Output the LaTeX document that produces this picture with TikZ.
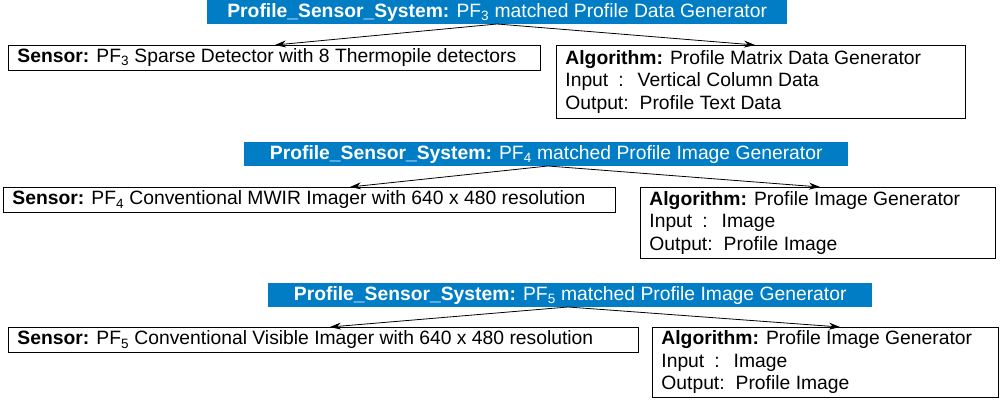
\documentclass[tikz,border=0pt]{standalone}
\usepackage{fontspec}
\setmainfont{Liberation Sans}
\usetikzlibrary{arrows.meta}
\definecolor{tblue}{RGB}{0,125,196}
\tikzset{
  ttl/.style={fill=tblue,text=white,anchor=north west,inner sep=0pt,minimum height=24pt,align=center},
  bx/.style={draw,thick,anchor=north west,inner xsep=9pt,inner ysep=0pt,align=flush left},
  arr/.style={-{Stealth[length=11pt,width=7pt]},thick}
}
\newcommand{\inl}{Input\hspace{10pt}:\hspace{14pt}}
\newcommand{\outl}{Output:\hspace{11pt}}
\begin{document}
\begin{tikzpicture}[x=1pt,y=-1pt,font=\fontsize{19.3}{22.5}\selectfont]
\useasboundingbox (0,0) rectangle (1000,401);
% group 1
\node[ttl,minimum width=580pt] (t1) at (207,0) {\textbf{Profile\_Sensor\_System:} PF\textsubscript{3} matched Profile Data Generator};
\node[bx,text width=514pt,minimum height=25pt] (s1) at (8,45) {\textbf{Sensor:} PF\textsubscript{3} Sparse Detector with 8 Thermopile detectors};
\node[bx,text width=391pt,minimum height=73pt] (a1) at (556,45) {\textbf{Algorithm:} Profile Matrix Data Generator\\\inl Vertical Column Data\\\outl Profile Text Data};
\coordinate (o1) at (497,24);
\draw[arr] (o1) -- (275,45);
\draw[arr] (o1) -- (755,45);
% group 2
\node[ttl,minimum width=604pt] (t2) at (244,142) {\textbf{Profile\_Sensor\_System:} PF\textsubscript{4} matched Profile Image Generator};
\node[bx,text width=594pt,minimum height=25pt] (s2) at (3,187) {\textbf{Sensor:} PF\textsubscript{4} Conventional MWIR Imager with 640 x 480 resolution};
\node[bx,text width=337pt,minimum height=71pt] (a2) at (640,187) {\textbf{Algorithm:} Profile Image Generator\\\inl Image\\\outl Profile Image};
\coordinate (o2) at (548,166);
\draw[arr] (o2) -- (350,187);
\draw[arr] (o2) -- (820,187);
% group 3
\node[ttl,minimum width=604pt] (t3) at (268,283) {\textbf{Profile\_Sensor\_System:} PF\textsubscript{5} matched Profile Image Generator};
\node[bx,text width=612pt,minimum height=25pt] (s3) at (8,327) {\textbf{Sensor:} PF\textsubscript{5} Conventional Visible Imager with 640 x 480 resolution};
\node[bx,text width=328pt,minimum height=70pt] (a3) at (652,327) {\textbf{Algorithm:} Profile Image Generator\\\inl Image\\\outl Profile Image};
\coordinate (o3) at (568,307);
\draw[arr] (o3) -- (330,327);
\draw[arr] (o3) -- (840,327);
\end{tikzpicture}
\end{document}
